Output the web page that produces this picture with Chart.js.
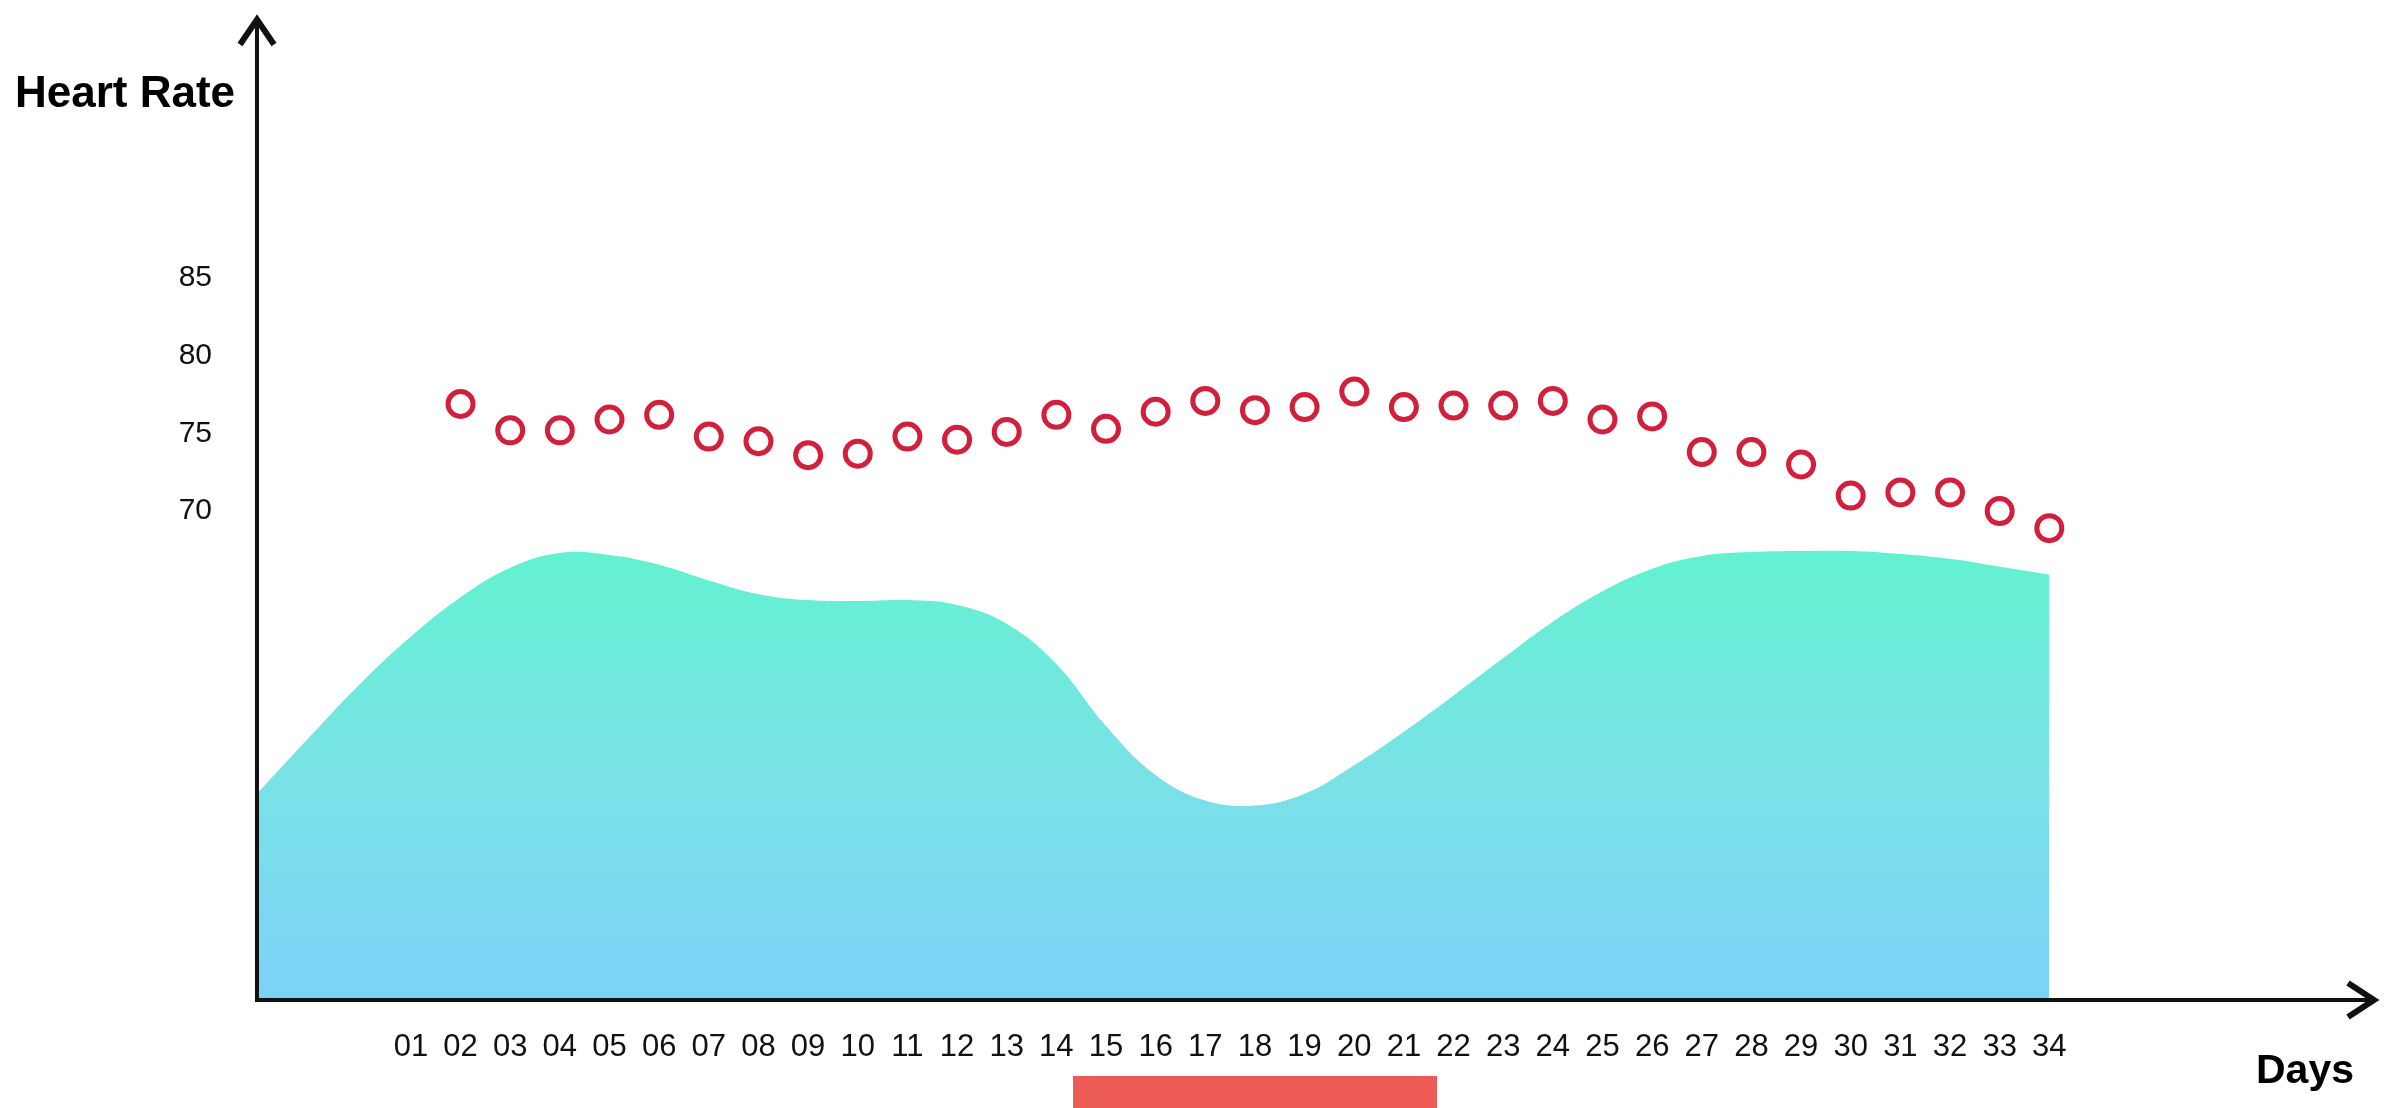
<!DOCTYPE html>
<html>
<head>
<meta charset="utf-8">
<script src="https://cdn.jsdelivr.net/npm/chart.js@4.4.0/dist/chart.umd.min.js"></script>
<style>
  body { margin: 0; background: #fff; }
  .wrap { position: relative; width: 2397px; height: 1108px; font-family: 'Liberation Sans', Arial, sans-serif; }
  .axis-name { position: absolute; font-weight: bold; line-height: 1; color: #000; white-space: nowrap; }
  .bar { position: absolute; left: 1073px; top: 1076px; width: 364px; height: 32px; background: #ec5b56; }
  canvas { position: absolute; left: 0; top: 0; }
</style>
</head>
<body>
<div class="wrap">
  <canvas id="chart" width="2397" height="1108"></canvas>
  <div class="axis-name" style="left: 15px; top: 70px; font-size: 44px;">Heart Rate</div>
  <div class="axis-name" style="left: 2256px; top: 1049px; font-size: 41px;">Days</div>
  <div class="bar"></div>
</div>
<script>
const FONT = "'Liberation Sans', Arial, sans-serif";

// x tick labels, one per day
const dayTicks = ['01', '02', '03', '04', '05', '06', '07', '08', '09', '10', '11', '12',
  '13', '14', '15', '16', '17', '18', '19', '20', '21', '22', '23', '24',
  '25', '26', '27', '28', '29', '30', '31', '32', '33', '34'];

// heart rate per day (no reading on day 01)
const heartRate = [null, 76.7, 75.0, 75.0, 75.7, 76.0, 74.6, 74.3, 73.4, 73.5, 74.6, 74.4,
  74.9, 76.0, 75.1, 76.2, 76.9, 76.3, 76.5, 77.5, 76.5, 76.6, 76.6, 76.9,
  75.7, 75.9, 73.6, 73.6, 72.8, 70.8, 71.0, 71.0, 69.8, 68.7];

const rateTicks = [70, 75, 80, 85];

// background level curve, on its own hidden 0-100 axis
const areaDays = [-2.1, -1, 0, 1, 2, 3, 4, 5, 6, 7, 8, 9, 10, 11, 12, 13, 14, 15, 16, 17,
  18, 19, 20, 21, 22, 23, 24, 25, 26, 27, 28, 29, 30, 31, 32, 33, 34];
const areaLevels = [21.0, 27.0, 32.3, 37.0, 41.0, 44.0, 45.5, 45.3, 44.3, 42.7, 41.3, 40.7,
  40.6, 40.7, 40.2, 38.3, 34.2, 27.9, 22.9, 20.3, 19.8, 21.0, 23.9, 27.3, 31.0, 34.8,
  38.5, 41.6, 43.9, 45.2, 45.6, 45.7, 45.7, 45.4, 44.9, 44.1, 43.3];

// axis lines with open arrow heads
const axisArrows = {
  id: 'axisArrows',
  afterDraw(chart) {
    const { ctx, chartArea: a } = chart;
    ctx.save();
    ctx.strokeStyle = '#111';
    ctx.lineWidth = 4;
    ctx.beginPath();
    ctx.moveTo(a.left, a.top + 2);
    ctx.lineTo(a.left, a.bottom);
    ctx.lineTo(a.right - 2, a.bottom);
    ctx.stroke();

    ctx.lineWidth = 6;
    ctx.beginPath();
    ctx.moveTo(a.left - 17, a.top + 27);
    ctx.lineTo(a.left, a.top + 2);
    ctx.lineTo(a.left + 17, a.top + 27);
    ctx.moveTo(a.right - 29, a.bottom - 17);
    ctx.lineTo(a.right - 3, a.bottom);
    ctx.lineTo(a.right - 29, a.bottom + 17);
    ctx.stroke();
    ctx.restore();
  }
};

const areaFill = (c) => {
  const chart = c.chart;
  if (!chart.chartArea) return '#7adcec';
  const y2 = chart.scales.y2;
  const g = chart.ctx.createLinearGradient(0, y2.getPixelForValue(46), 0, y2.getPixelForValue(0));
  g.addColorStop(0, '#62f2d0');
  g.addColorStop(0.5, '#79e2e6');
  g.addColorStop(1, '#7cd2f8');
  return g;
};

new Chart(document.getElementById('chart'), {
  type: 'line',
  data: {
    datasets: [
      {
        data: heartRate.map((v, i) => ({ x: i + 1, y: v })),
        yAxisID: 'y',
        showLine: false,
        pointRadius: 12.5,
        pointBorderWidth: 5,
        pointBorderColor: '#d21f3c',
        pointBackgroundColor: '#fff',
        order: 0
      },
      {
        data: areaDays.map((d, i) => ({ x: d, y: areaLevels[i] })),
        yAxisID: 'y2',
        fill: 'origin',
        borderWidth: 0,
        pointRadius: 0,
        tension: 0.4,
        backgroundColor: areaFill,
        order: 1
      }
    ]
  },
  options: {
    responsive: false,
    animation: false,
    events: [],
    layout: { padding: { top: 15, right: 20, left: 0, bottom: 0 } },
    plugins: { legend: { display: false }, tooltip: { enabled: false } },
    scales: {
      x: {
        type: 'linear',
        min: -2.1,
        max: 40.6,
        grid: { display: false, drawTicks: false },
        border: { display: false },
        afterBuildTicks: (s) => { s.ticks = dayTicks.map((t, i) => ({ value: i + 1 })); },
        ticks: {
          autoSkip: false,
          maxRotation: 0,
          minRotation: 0,
          padding: 29,
          color: '#111',
          font: { family: FONT, size: 31 },
          callback: (v, i) => dayTicks[i]
        },
        afterFit: (s) => { s.height = 108; s.paddingLeft = 0; s.paddingRight = 0; }
      },
      y: {
        min: 38.3,
        max: 101.6,
        grid: { display: false, drawTicks: false },
        border: { display: false },
        afterBuildTicks: (s) => { s.ticks = rateTicks.map(v => ({ value: v })); },
        ticks: {
          padding: 45,
          labelOffset: 3,
          color: '#111',
          font: { family: FONT, size: 30 }
        },
        afterFit: (s) => { s.width = 257; s.paddingTop = 0; s.paddingBottom = 0; }
      },
      y2: { display: false, min: 0, max: 100 }
    }
  },
  plugins: [axisArrows]
});
</script>
</body>
</html>
